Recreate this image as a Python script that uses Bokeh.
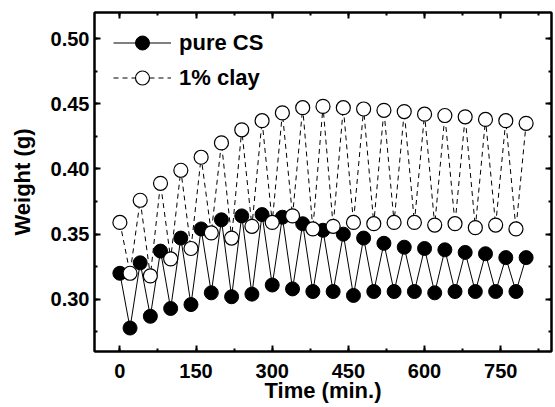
from bokeh.plotting import figure
from bokeh.models import (Range1d, LinearAxis, SingleIntervalTicker, PrintfTickFormatter,
                          Legend, LegendItem, ColumnDataSource)
from bokeh.embed import file_html
from bokeh.resources import INLINE

# ---- data ----
time_min = [0, 20, 40, 60, 80, 100, 120, 140, 160, 180, 200, 220, 240, 260, 280, 300,
            320, 340, 360, 380, 400, 420, 440, 460, 480, 500, 520, 540, 560, 580, 600,
            620, 640, 660, 680, 700, 720, 740, 760, 780, 800]
pure_cs = [0.320, 0.278, 0.328, 0.287, 0.337, 0.293, 0.347, 0.296, 0.354, 0.305, 0.361,
           0.302, 0.364, 0.304, 0.365, 0.311, 0.363, 0.308, 0.358, 0.306, 0.353, 0.306,
           0.350, 0.303, 0.347, 0.306, 0.343, 0.306, 0.340, 0.306, 0.339, 0.305, 0.338,
           0.306, 0.336, 0.306, 0.335, 0.306, 0.332, 0.306, 0.332]
clay_1 = [0.359, 0.320, 0.376, 0.318, 0.389, 0.331, 0.399, 0.339, 0.409, 0.351, 0.420,
          0.347, 0.430, 0.356, 0.437, 0.359, 0.443, 0.364, 0.447, 0.354, 0.448, 0.356,
          0.447, 0.359, 0.446, 0.358, 0.445, 0.359, 0.444, 0.359, 0.442, 0.357, 0.441,
          0.358, 0.440, 0.355, 0.438, 0.357, 0.437, 0.354, 0.435]
series_labels = ["pure CS", "1% clay"]
x_label = "Time (min.)"
y_label = "Weight (g)"

FONT = "Liberation Sans"

src = ColumnDataSource(dict(t=time_min, cs=pure_cs, clay=clay_1))

p = figure(width=555, height=407, output_backend="svg", toolbar_location=None,
           x_range=Range1d(-50, 850), y_range=Range1d(0.26, 0.52),
           min_border_left=94, min_border_right=4, min_border_top=12, min_border_bottom=56,
           background_fill_color="white", border_fill_color="white")
p.xgrid.visible = False
p.ygrid.visible = False
p.outline_line_color = "black"
p.outline_line_width = 2

l1 = p.line("t", "cs", source=src, line_color="black", line_width=1)
s1 = p.scatter("t", "cs", source=src, size=14, fill_color="black", line_color="black", line_width=1)
l2 = p.line("t", "clay", source=src, line_color="black", line_width=1, line_dash="5 4")
s2 = p.scatter("t", "clay", source=src, size=14, fill_color="white", line_color="black", line_width=1.2)

def style_axis(ax, labels=True):
    ax.axis_line_color = "black"
    ax.axis_line_width = 2
    ax.major_tick_in = 6
    ax.major_tick_out = 0
    ax.minor_tick_in = 3
    ax.minor_tick_out = 0
    ax.major_tick_line_width = 2
    ax.minor_tick_line_width = 2
    ax.major_tick_line_color = "black"
    ax.minor_tick_line_color = "black"
    if labels:
        ax.major_label_text_font = FONT
        ax.major_label_text_font_style = "bold"
        ax.major_label_text_font_size = "20px"
        ax.major_label_text_color = "black"
        ax.axis_label_text_font = FONT
        ax.axis_label_text_font_style = "bold"
        ax.axis_label_text_font_size = "22px"
        ax.axis_label_text_color = "black"
    else:
        ax.major_label_text_font_size = "0px"
        ax.major_label_text_color = None
        ax.major_label_text_alpha = 0
        ax.major_label_standoff = 0
        ax.axis_label = None

xt = SingleIntervalTicker(interval=150, num_minor_ticks=2)
yt = SingleIntervalTicker(interval=0.05, num_minor_ticks=2)

p.xaxis.ticker = xt
p.yaxis.ticker = yt
p.yaxis.formatter = PrintfTickFormatter(format="%.2f")
p.xaxis.axis_label = x_label
p.yaxis.axis_label = y_label
style_axis(p.xaxis[0])
style_axis(p.yaxis[0])
p.xaxis.major_label_standoff = 12
p.xaxis.axis_label_standoff = -3
p.yaxis.major_label_standoff = 5
p.yaxis.axis_label_standoff = 13

top_ax = LinearAxis(ticker=SingleIntervalTicker(interval=150, num_minor_ticks=2))
right_ax = LinearAxis(ticker=SingleIntervalTicker(interval=0.05, num_minor_ticks=2))
style_axis(top_ax, labels=False)
style_axis(right_ax, labels=False)
p.add_layout(top_ax, "above")
p.add_layout(right_ax, "right")

legend = Legend(items=[LegendItem(label=series_labels[0], renderers=[l1, s1]),
                       LegendItem(label=series_labels[1], renderers=[l2, s2])],
                location=(19, 256), orientation="vertical",
                glyph_width=58, glyph_height=35, label_height=35, spacing=0,
                padding=0, margin=0, label_standoff=8,
                border_line_color=None, background_fill_alpha=0,
                label_text_font=FONT, label_text_font_style="bold",
                label_text_font_size="22px", label_text_color="black")
p.add_layout(legend, "center")

open("out.html", "w").write(file_html(p, INLINE))
